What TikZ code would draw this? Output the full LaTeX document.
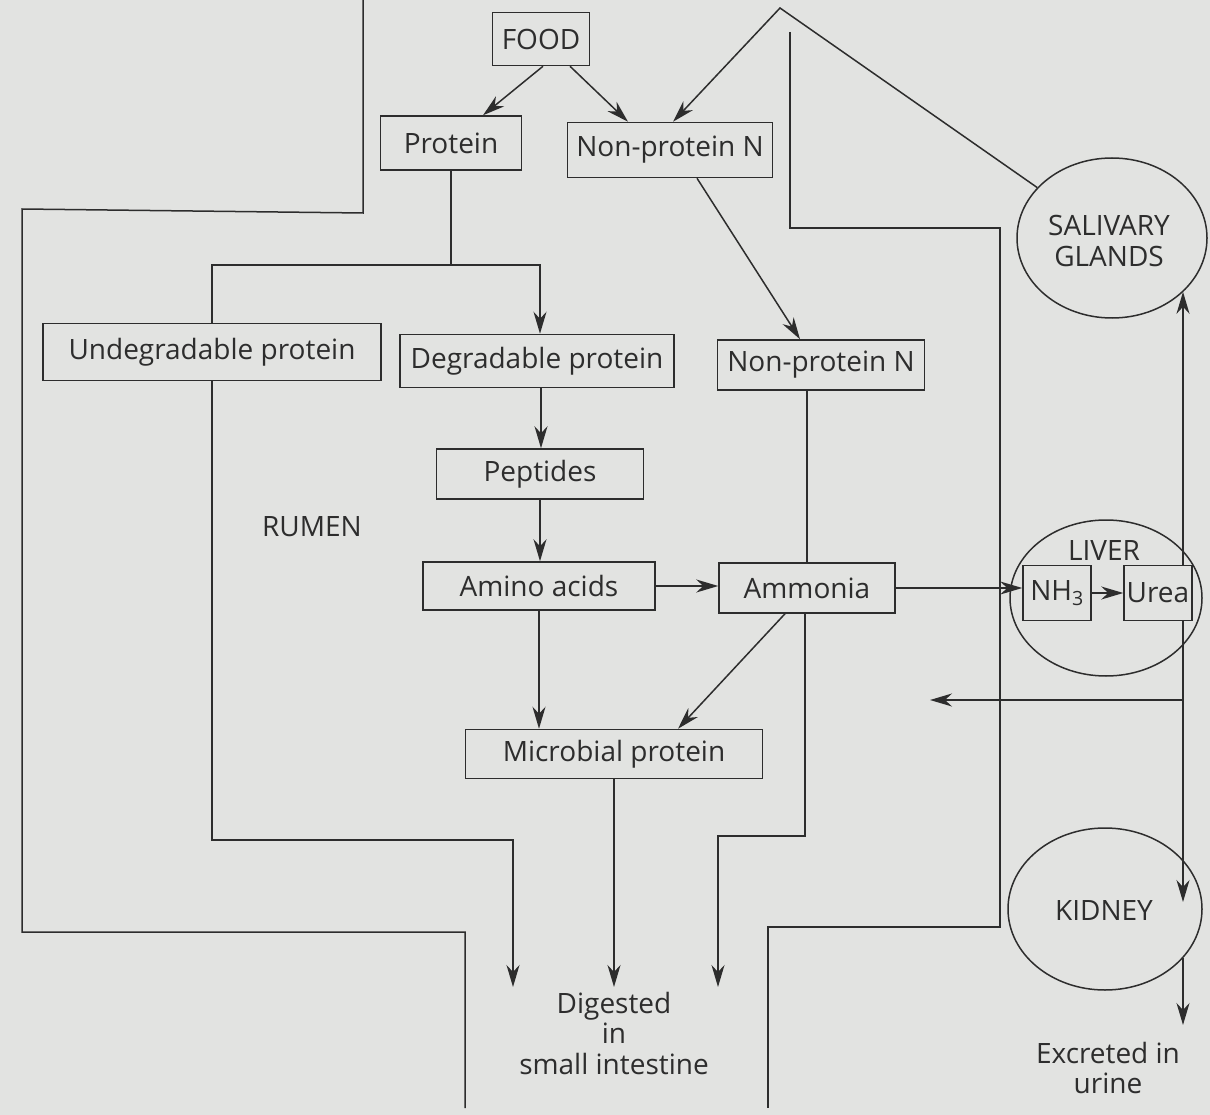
\documentclass[tikz,border=0pt]{standalone}
\usepackage{fontspec}
\setmainfont{Open Sans}
\usetikzlibrary{arrows.meta,shapes.geometric,calc}
\definecolor{bg}{RGB}{226,227,225}
\definecolor{ink}{RGB}{45,45,45}
\begin{document}
\begin{tikzpicture}[x=1pt,y=-1pt,
  every node/.style={text=ink,font=\fontsize{28}{30.5}\selectfont},
  box/.style={draw=ink,line width=1.5pt,inner sep=0pt},
  ell/.style={draw=ink,line width=1.5pt,ellipse,inner sep=0pt},
  flow/.style={draw=ink,line width=1.5pt},
  arr/.style={flow,-{Stealth[length=22pt,width=13pt,inset=7pt]}},
  wall/.style={draw=ink,line width=1.5pt}]
\fill[bg] (0,0) rectangle (1210,1115);
\useasboundingbox (0,0) rectangle (1210,1115);

% gut walls
\draw[wall] (363,0) -- (363,213) -- (22,209) -- (22,932) -- (465,932) -- (465,1108);
\draw[wall] (790,32) -- (790,228) -- (1000,228) -- (1000,927) -- (768,927) -- (768,1108);

% boxes
\node[box,minimum width=97pt,minimum height=53pt] (food) at (541,39) {FOOD};
\node[box,minimum width=141pt,minimum height=54pt] (prot) at (451,143) {Protein};
\node[box,minimum width=205pt,minimum height=55pt] (npn1) at (670,150) {Non-protein N};
\node[box,minimum width=338pt,minimum height=57pt] (undeg) at (212,352) {Undegradable protein};
\node[box,minimum width=274pt,minimum height=53pt] (deg) at (537,361) {Degradable protein};
\node[box,minimum width=207pt,minimum height=50pt] (npn2) at (821,365) {Non-protein N};
\node[box,minimum width=207pt,minimum height=50pt] (pept) at (540,474) {Peptides};
\node[box,minimum width=232pt,minimum height=48pt] (amino) at (539,586) {Amino acids};
\node[box,minimum width=176pt,minimum height=50pt] (ammonia) at (807,588) {Ammonia};
\node[box,minimum width=297pt,minimum height=49pt] (micro) at (614,754) {Microbial protein};
\node[box,minimum width=68pt,minimum height=55pt] (nh3) at (1057,593) {NH\textsubscript{3}};
\node[box,minimum width=68pt,minimum height=55pt] (urea) at (1158,593) {Urea};

% organs
\node[ell,minimum width=190pt,minimum height=160pt] (sal) at (1112,238) {};
\node[align=center] (saltext) at (1109,241) {SALIVARY\\GLANDS};
\node[ell,minimum width=192pt,minimum height=156pt] (liver) at (1106,598) {};
\node (livertext) at (1104,551) {LIVER};
\node[ell,minimum width=194pt,minimum height=162pt] (kidney) at (1105,909) {};
\node (kidneytext) at (1104,910) {KIDNEY};

% labels
\node (rumen) at (312,527) {RUMEN};
\node[align=center] (dig) at (614,1033) {Digested\\in\\small intestine};
\node[align=center] (urine) at (1108,1068) {Excreted in\\urine};

% coordinates
\coordinate (apex) at (780,8);
\coordinate (sp) at (451,265);
\coordinate (d1) at (513,987);
\coordinate (d2) at (615,987);
\coordinate (d3) at (718,987);
\coordinate (u1) at (513,840);
\coordinate (a1) at (718,836);
\coordinate (bx) at (1183,0);
\coordinate (ret) at (930,700);
\coordinate (ur) at (1183,1025);

% connectors
\draw[arr] ([xshift=2pt]food.south) -- ([xshift=32pt]prot.north);
\draw[arr] ([xshift=29pt]food.south) -- ([xshift=-42pt]npn1.north);
\draw[arr] (sal.146) -- (apex) -- ([xshift=3pt]npn1.north);
\draw[flow] (prot.south) -- (sp);
\draw[arr] (undeg.north) |- ([xshift=3pt]deg.north |- sp) -- ([xshift=3pt]deg.north);
\draw[arr] ([xshift=27pt]npn1.south) -- ([xshift=-21pt]npn2.north);
\draw[arr] ([xshift=4pt]deg.south) -- ([xshift=1pt]pept.north);
\draw[arr] (pept.south) -- (amino.north -| pept.south);
\draw[arr] (amino.east) -- (amino.east -| ammonia.west);
\draw[flow] (npn2.south -| ammonia.north) -- (ammonia.north);
\draw[arr] (ammonia.east) -- (ammonia.east -| nh3.west);
\draw[arr] (nh3.east) -- (urea.west);
\draw[arr] ([xshift=-22pt]ammonia.south) -- ([xshift=64pt]micro.north);
\draw[arr] (amino.south) -- (amino.south |- micro.north);
\draw[arr] (micro.south) -- (micro.south |- d2);
\draw[arr] (undeg.south) |- (u1) -- (d1);
\draw[arr] ([xshift=-2pt]ammonia.south) |- (a1) -- (d3);
\draw[arr] (urea.north -| bx) -- (sal.-37 -| bx);
\draw[arr] (urea.south -| bx) -- ([yshift=7pt]kidney.center -| bx);
\draw[arr] (ret -| bx) -- (ret);
\draw[arr] (kidney.-32 -| bx) -- (ur);
\end{tikzpicture}
\end{document}
